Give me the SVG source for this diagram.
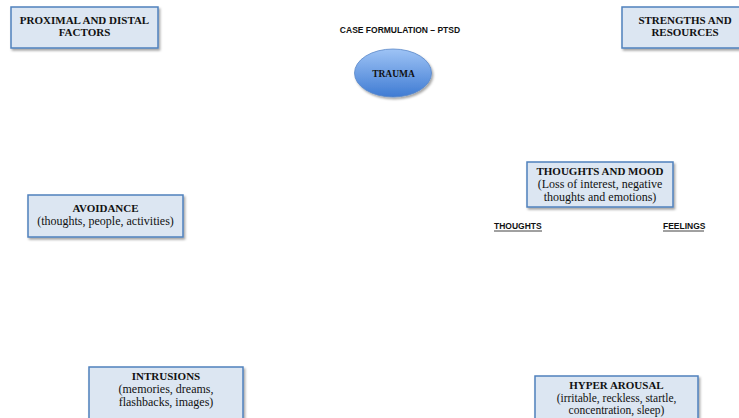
<svg xmlns="http://www.w3.org/2000/svg" width="739" height="418" viewBox="0 0 739 418">
<defs>
<linearGradient id="g" x1="0" y1="0" x2="0" y2="1">
<stop offset="0" stop-color="#9ec3f5"/>
<stop offset="1" stop-color="#3f7bd3"/>
</linearGradient>
<filter id="sh" x="-10%" y="-10%" width="130%" height="140%">
<feDropShadow dx="1.5" dy="2" stdDeviation="1.2" flood-color="#000" flood-opacity="0.35"/>
</filter>
</defs>
<style>
.box{fill:#dce6f2;stroke:#4f81bd;stroke-width:1.5;filter:url(#sh)}
.t{font-family:"Liberation Serif",serif;font-size:12px;fill:#111;text-anchor:middle}
.b{font-weight:bold;font-size:11px}
.s{font-family:"Liberation Sans",sans-serif;font-size:8.5px;font-weight:bold;fill:#111}
</style>
<rect width="739" height="418" fill="#fff"/>
<text class="s" x="400" y="33" text-anchor="middle" font-size="9.5">CASE FORMULATION – PTSD</text>
<g id="connectors"></g>
<g id="proximal">
<rect class="box" x="11" y="7" width="147" height="41"/>
<text class="t b" x="84.5" y="24">PROXIMAL AND DISTAL</text>
<text class="t b" x="84.5" y="36">FACTORS</text>
</g>
<g id="strengths">
<rect class="box" x="622" y="7" width="125" height="41"/>
<text class="t b" x="685" y="24">STRENGTHS AND</text>
<text class="t b" x="685" y="36">RESOURCES</text>
</g>
<g id="trauma">
<ellipse cx="393" cy="73" rx="38.5" ry="24" fill="url(#g)" stroke="#5b88c8" stroke-width="0.8" filter="url(#sh)"/>
<text class="t b" x="393.5" y="77" style="font-size:9.5px">TRAUMA</text>
</g>
<g id="avoidance">
<rect class="box" x="28" y="195" width="155" height="42"/>
<text class="t b" x="105.5" y="212">AVOIDANCE</text>
<text class="t" x="105.5" y="225">(thoughts, people, activities)</text>
</g>
<g id="thoughts-mood">
<rect class="box" x="527" y="162" width="146" height="45"/>
<text class="t b" x="600" y="175">THOUGHTS AND MOOD</text>
<text class="t" x="600" y="188">(Loss of interest, negative</text>
<text class="t" x="600" y="201">thoughts and emotions)</text>
</g>
<g id="thoughts">
<text class="s" x="494" y="229">THOUGHTS</text>
<line x1="494" y1="231" x2="542" y2="231" stroke="#111" stroke-width="0.8"/>
</g>
<g id="feelings">
<text class="s" x="663" y="229">FEELINGS</text>
<line x1="663" y1="231" x2="704" y2="231" stroke="#111" stroke-width="0.8"/>
</g>
<g id="intrusions">
<rect class="box" x="89" y="367" width="154" height="56"/>
<text class="t b" x="166" y="380">INTRUSIONS</text>
<text class="t" x="166" y="393">(memories, dreams,</text>
<text class="t" x="166" y="406">flashbacks, images)</text>
</g>
<g id="hyper-arousal">
<rect class="box" x="535" y="376" width="163" height="50"/>
<text class="t b" x="616.5" y="389">HYPER AROUSAL</text>
<text class="t" x="616.5" y="401.5" style="font-size:11.5px">(irritable, reckless, startle,</text>
<text class="t" x="616.5" y="414" style="font-size:11.5px">concentration, sleep)</text>
</g>
</svg>
